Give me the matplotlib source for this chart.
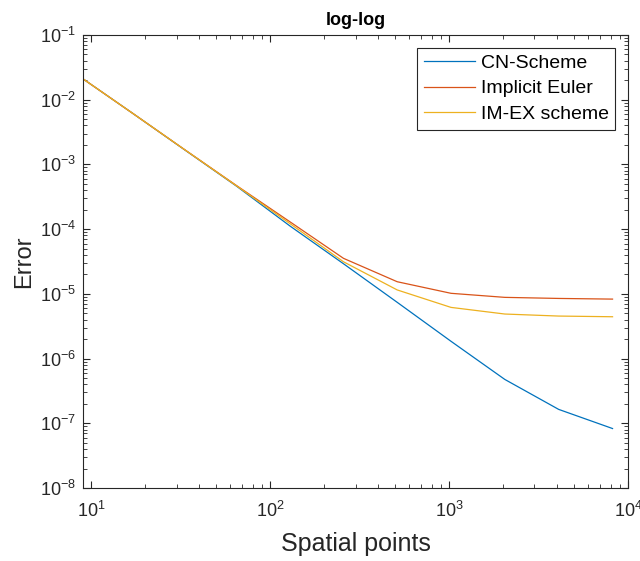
import numpy as np
import matplotlib.pyplot as plt
from matplotlib.ticker import LogLocator, NullFormatter

plt.rcParams['font.family'] = ['Liberation Sans', 'DejaVu Sans']
plt.rcParams['mathtext.fontset'] = 'custom'
plt.rcParams['mathtext.rm'] = 'Liberation Sans'

# ==== Data ====
N = [9, 17, 33, 65, 129, 257, 513, 1025, 2049, 4097, 8193]
err_cn = [2.1e-2, 6.2e-3, 1.71e-3, 4.6e-4, 1.12e-4, 2.92e-5, 7.4e-6, 1.85e-6, 4.76e-7, 1.64e-7, 8.3e-8]
err_ie = [2.1e-2, 6.2e-3, 1.72e-3, 4.7e-4, 1.30e-4, 3.54e-5, 1.54e-5, 1.02e-5, 8.83e-6, 8.5e-6, 8.3e-6]
err_imex = [2.1e-2, 6.2e-3, 1.72e-3, 4.65e-4, 1.22e-4, 3.13e-5, 1.15e-5, 6.18e-6, 4.88e-6, 4.54e-6, 4.43e-6]

labels = ["CN-Scheme", "Implicit Euler", "IM-EX scheme"]
colors = ["#0072BD", "#D95319", "#EDB120"]
axcol = "#262626"

fig = plt.figure(figsize=(6.4, 5.61), dpi=100)
ax = fig.add_axes([0.1297, 0.1301, 0.8516, 0.8075])

for y, lab, c in zip([err_cn, err_ie, err_imex], labels, colors):
    ax.loglog(N, y, color=c, linewidth=0.9, label=lab)

ax.set_xlim(9, 1e4)
ax.set_ylim(1e-8, 1e-1)

ax.xaxis.set_major_locator(LogLocator(base=10, numticks=10))
ax.yaxis.set_major_locator(LogLocator(base=10, numticks=12))
ax.xaxis.set_minor_locator(LogLocator(base=10, subs=np.arange(2, 10), numticks=12))
ax.yaxis.set_minor_locator(LogLocator(base=10, subs=np.arange(2, 10), numticks=12))
ax.xaxis.set_minor_formatter(NullFormatter())
ax.yaxis.set_minor_formatter(NullFormatter())

ax.tick_params(which="both", direction="in", top=True, right=True, colors=axcol,
               labelsize=13, labelcolor=axcol)
ax.tick_params(which="major", length=5, width=0.8)
ax.tick_params(which="minor", length=3, width=0.6)
ax.tick_params(axis="x", which="major", pad=9)
ax.tick_params(axis="y", which="major", pad=5)
for s in ax.spines.values():
    s.set_color(axcol)
    s.set_linewidth(0.8)

ax.set_xlabel("Spatial points", fontsize=18, color=axcol, labelpad=8)
ax.set_ylabel("Error", fontsize=17, color=axcol)
ax.yaxis.set_label_coords(-0.088, 0.5)
ax.set_title("log-log", fontsize=13, fontweight="bold", pad=7)

leg = ax.legend(loc="upper right", fontsize=14, fancybox=False, framealpha=1,
                edgecolor=axcol, handlelength=2.6, borderaxespad=0.65,
                labelspacing=0.4, handletextpad=0.3, borderpad=0.35)
leg.get_frame().set_linewidth(0.8)

fig.savefig("out.png", dpi=100)
